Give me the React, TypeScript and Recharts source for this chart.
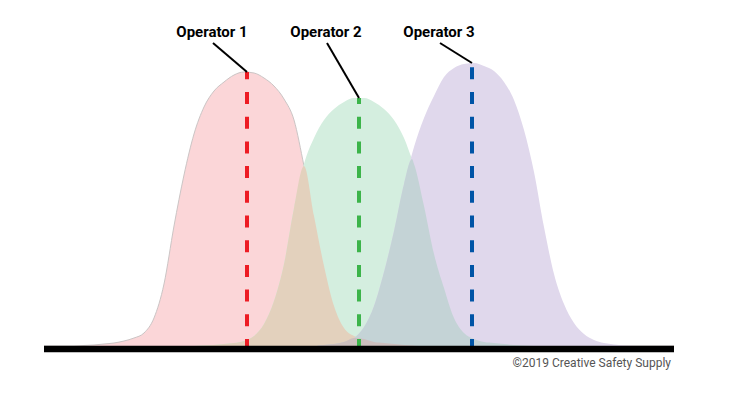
import React from 'react';
import { AreaChart, Area, XAxis, YAxis, ReferenceLine, ReferenceDot } from 'recharts';

// measurement positions (shared grid for all three curves)
const measurePoints = [
  0, 10, 20, 30, 40, 50, 60, 70, 80, 90, 100, 110, 120, 130, 140, 150, 160, 170, 180, 190, 200,
  210, 220, 230, 240, 250, 260, 270, 280, 290, 300, 310, 320, 330, 340, 350, 360, 368,
  370, 380, 390, 400, 410, 420, 430, 440, 450, 460, 470, 480, 490, 500, 510, 520, 530, 540, 550,
  560, 570, 580, 590, 600, 610, 620, 630,
];

const operator1Density = [
  0, 0, 0, 0, 0.5, 1, 2, 3, 5, 8, 13, 28, 62, 120, 171, 212, 239, 255, 264, 271, 274,
  273, 268, 260, 247, 226, 180, 130, 80, 40, 18, 10, 7, 4, 3, 2, 1, 0.5,
  0.3, 0, 0, 0, 0, 0, 0, 0, 0, 0, 0, 0, 0, 0, 0, 0, 0, 0, 0,
  0, 0, 0, 0, 0, 0, 0, 0,
];

const operator2Density = [
  0, 0, 0, 0, 0, 0, 0, 0, 0, 0, 0, 0, 0, 0, 0, 0, 0.5, 1, 2, 3, 5,
  10, 22, 45, 82, 138, 182, 208, 226, 237, 244, 248, 248, 244, 237, 226, 208, 187,
  182, 140, 92, 58, 28, 13, 7, 4, 3, 2, 1, 0.5, 0, 0, 0, 0, 0, 0, 0,
  0, 0, 0, 0, 0, 0, 0, 0,
];

const operator3Density = [
  0, 0, 0, 0, 0, 0, 0, 0, 0, 0, 0, 0, 0, 0, 0, 0, 0, 0, 0, 0, 0,
  0, 0, 0, 0, 0, 0, 0, 1, 2, 4, 8, 19, 40, 74, 115, 162, 192,
  199, 228, 250, 269, 278, 282, 283, 280, 275, 264, 246, 216, 174, 119, 72, 42, 23, 12, 6,
  3, 1.5, 0.5, 0, 0, 0, 0, 0,
];

const operatorNames = ['Operator 1', 'Operator 2', 'Operator 3'];
const operatorMeans = [203, 315, 428];
const operatorPeaks = [274, 248, 283];
const labelAnchorX = [169, 283, 396];
const labelAnchorY = [303, 303, 303];

const dashColors = ['#ed1c24', '#3cb44a', '#0054a6'];

const data = measurePoints.map((x, i) => {
  const r = operator1Density[i];
  const g = operator2Density[i];
  const p = operator3Density[i];
  return {
    x,
    r,
    g,
    p,
    rg: Math.min(r, g),
    gp: Math.min(g, p),
    rgp: Math.min(r, g, p),
  };
});

const App = () => {
  return (
    <div style={{ position: 'absolute', left: 0, top: 0, width: 740, height: 410, background: '#fff' }}>
      <AreaChart width={740} height={410} data={data} margin={{ top: 16, right: 66, bottom: 58, left: 44 }}>
        <XAxis dataKey="x" type="number" domain={[0, 630]} allowDataOverflow hide />
        <YAxis type="number" domain={[-6, 330]} allowDataOverflow hide />

        <Area type="monotone" dataKey="r" baseValue={0} fill="#fbd6d8" fillOpacity={1} stroke="#cbc5c5" strokeWidth={1} dot={false} activeDot={false} isAnimationActive={false} />
        <Area type="monotone" dataKey="g" baseValue={0} fill="#d4eedf" fillOpacity={1} stroke="none" dot={false} activeDot={false} isAnimationActive={false} />
        <Area type="monotone" dataKey="p" baseValue={0} fill="#e0d8ec" fillOpacity={1} stroke="none" dot={false} activeDot={false} isAnimationActive={false} />
        {/* overlap regions */}
        <Area type="monotone" dataKey="rg" baseValue={0} fill="#e3d1bd" fillOpacity={1} stroke="none" dot={false} activeDot={false} isAnimationActive={false} />
        <Area type="monotone" dataKey="gp" baseValue={0} fill="#c4d3d6" fillOpacity={1} stroke="none" dot={false} activeDot={false} isAnimationActive={false} />
        <Area type="monotone" dataKey="rgp" baseValue={0} fill="#cdbfbe" fillOpacity={1} stroke="none" dot={false} activeDot={false} isAnimationActive={false} />

        {operatorMeans.map((m, i) => (
          <ReferenceLine
            key={'mean' + i}
            segment={[{ x: m, y: 0 }, { x: m, y: operatorPeaks[i] }]}
            stroke={dashColors[i]}
            strokeWidth={4}
            strokeDasharray="12 12.7"
            strokeDashoffset={5}
          />
        ))}

        {operatorMeans.map((m, i) => (
          <ReferenceLine
            key={'leader' + i}
            segment={[{ x: labelAnchorX[i], y: labelAnchorY[i] }, { x: m, y: operatorPeaks[i] }]}
            stroke="#000"
            strokeWidth={2}
          />
        ))}

        {operatorNames.map((name, i) => (
          <ReferenceDot
            key={name}
            x={labelAnchorX[i] - 1}
            y={labelAnchorY[i]}
            r={0}
            stroke="none"
            fill="none"
            label={{ value: name, position: 'top', offset: 6, fill: '#000', fontSize: 15, fontWeight: 700, fontFamily: 'Roboto' }}
          />
        ))}

        <ReferenceLine y={-3} stroke="#000" strokeWidth={6.5} />
      </AreaChart>
      <div
        style={{
          position: 'absolute',
          left: 0,
          top: 356,
          width: 671,
          textAlign: 'right',
          fontFamily: 'Roboto',
          fontSize: 12,
          lineHeight: '14px',
          color: '#555',
        }}
      >
        ©2019 Creative Safety Supply
      </div>
    </div>
  );
};

export default App;
